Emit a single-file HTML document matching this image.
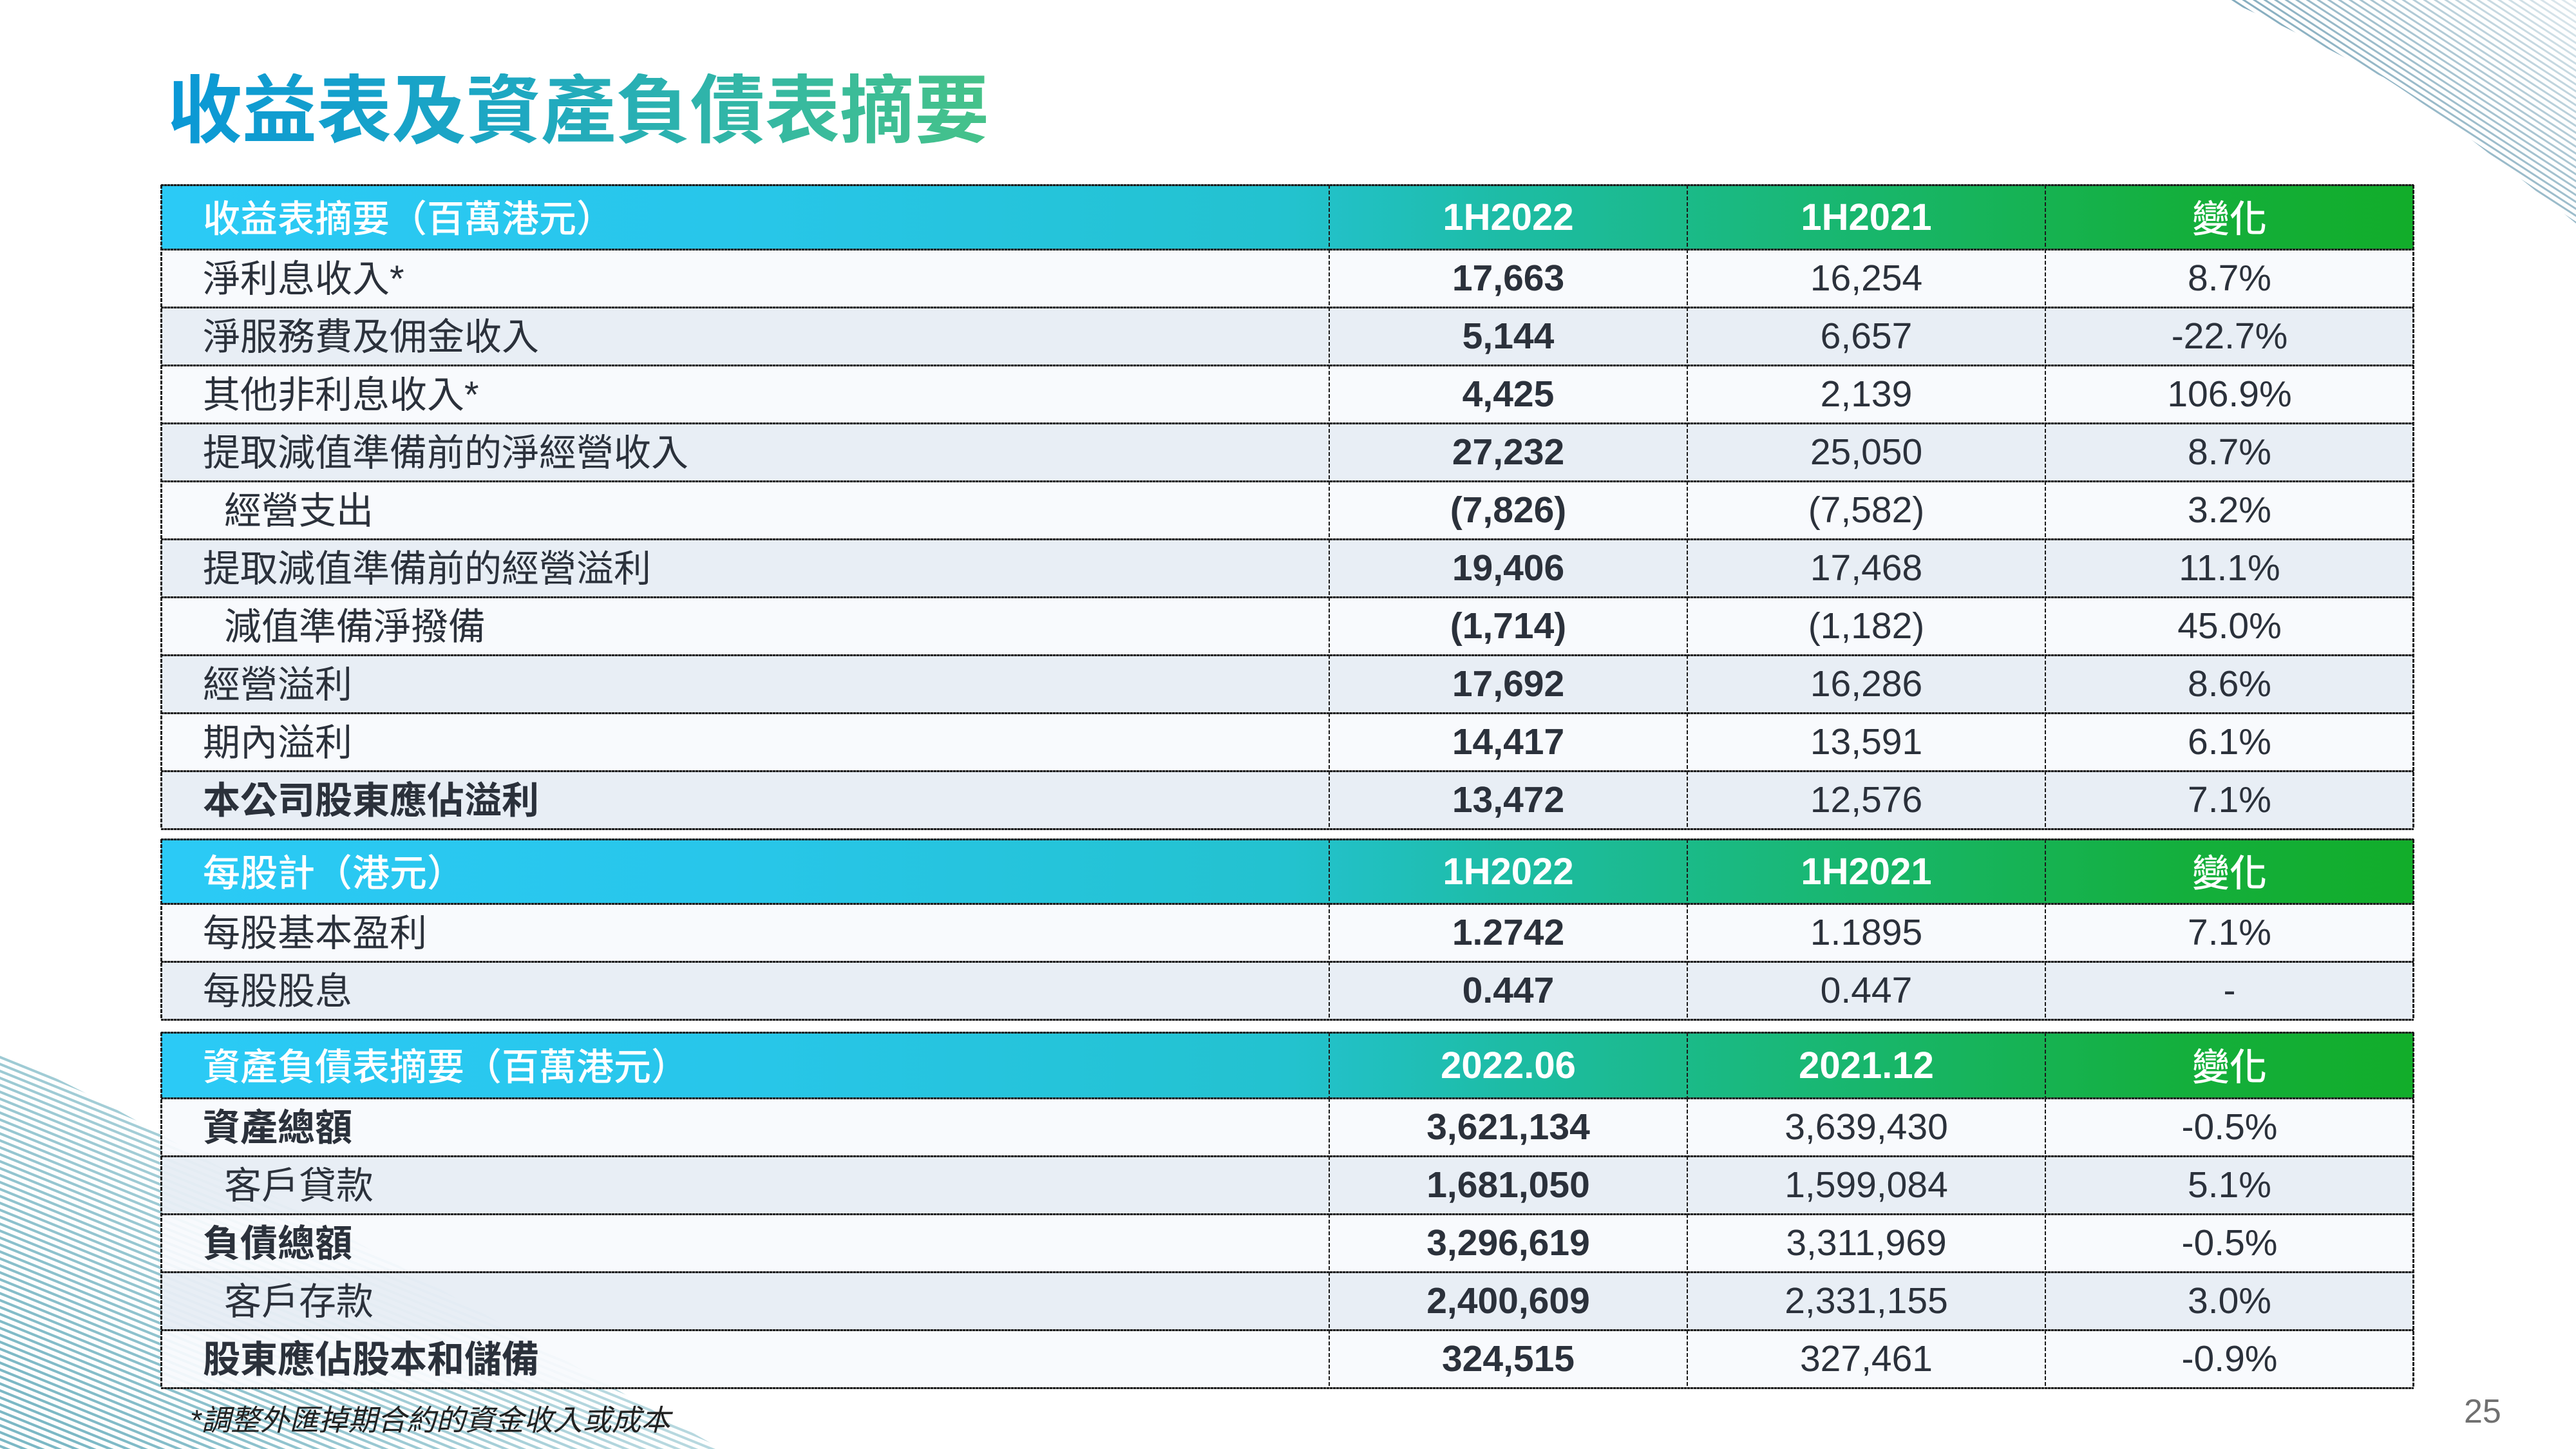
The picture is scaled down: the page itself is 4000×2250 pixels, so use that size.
<!DOCTYPE html>
<html><head><meta charset="utf-8">
<style>
*{margin:0;padding:0;box-sizing:border-box}
html,body{width:4000px;height:2250px;background:#fff;overflow:hidden}
body{position:relative;font-family:"Liberation Sans","Noto Sans CJK TC",sans-serif;color:#2b313b}
.title{position:absolute;left:260px;top:114px;font-family:"Liberation Sans","Noto Sans CJK TC",sans-serif;font-weight:700;font-size:116px;line-height:116px;white-space:nowrap;display:inline-block;background:linear-gradient(90deg,#0a98d6 0%,#20a9c0 45%,#36b9a0 75%,#46c289 100%);-webkit-background-clip:text;background-clip:text;color:transparent}
.sec{position:absolute;left:250px;width:3498px}
.row{position:relative;display:flex;height:90px}
.row.h{height:100px;background:linear-gradient(90deg,#2bcaf6 0%,#28c6ea 25%,#23c2cf 50%,#1dbca4 60%,#1ab980 70%,#17b45d 80%,#14af3c 90%,#12ad2a 100%)}
.row.l{background:rgba(248,250,253,0.93)}
.row.d{background:rgba(231,237,244,0.95)}
.row::before{content:"";position:absolute;left:0;right:0;top:-1px;height:3px;background:repeating-linear-gradient(90deg,#1c1c1c 0 4px,rgba(60,60,60,0.5) 4px 5px);z-index:2}
.bot{position:absolute;left:0;right:0;height:3px;background:repeating-linear-gradient(90deg,#1c1c1c 0 4px,rgba(60,60,60,0.5) 4px 5px);z-index:2}
.c{position:relative;display:flex;align-items:center;height:100%;font-size:57px;white-space:nowrap}
.c0{width:1814px;padding-left:65px;padding-bottom:9px;font-family:"Liberation Sans","Noto Sans CJK TC",sans-serif;font-size:58px}
.c0.in{padding-left:98px}
.c0.b{font-weight:700}
.c1,.c2,.c3{justify-content:center;font-family:"Liberation Sans",sans-serif}
.c1{width:556px;font-weight:700}
.c2{width:556px}
.c3{width:572px;font-family:"Liberation Sans","Noto Sans CJK TC",sans-serif}
.c1::before,.c2::before,.c3::before{content:"";position:absolute;left:-1px;top:0;bottom:0;width:2px;background:repeating-linear-gradient(180deg,#1c1c1c 0 6px,transparent 6px 9px)}
.vl{position:absolute;top:0;bottom:0;width:3px;background:repeating-linear-gradient(180deg,#1c1c1c 0 6px,transparent 6px 8px);z-index:3}
.h .c{color:#fff}
.h .c0{font-weight:500;padding-bottom:5px}
.h .c1,.h .c2{font-weight:700;font-size:58px}
.h .c3{font-weight:500;font-size:58px;padding-bottom:4px}
.foot{position:absolute;left:295px;top:2178px;font-size:45.5px;line-height:56px;font-style:italic;color:#222;font-family:"Liberation Sans","Noto Sans CJK TC",sans-serif;white-space:nowrap}
.pg{position:absolute;left:3826px;top:2166px;font-size:52px;line-height:52px;color:#707070;font-family:"Liberation Sans",sans-serif}
</style></head><body>

<svg width="4000" height="2250" style="position:absolute;left:0;top:0" xmlns="http://www.w3.org/2000/svg">
<defs>
<pattern id="ptr" patternUnits="userSpaceOnUse" width="60" height="9" patternTransform="rotate(33)"><rect width="60" height="3" fill="#7ea8bb"/></pattern>
<pattern id="pbl" patternUnits="userSpaceOnUse" width="60" height="10" patternTransform="rotate(22)"><rect width="60" height="4" fill="#7cb8c5"/></pattern>
<linearGradient id="gtr" x1="3620" y1="160" x2="3860" y2="-120" gradientUnits="userSpaceOnUse"><stop offset="0" stop-color="#fff" stop-opacity="1"/><stop offset="1" stop-color="#fff" stop-opacity="0.25"/></linearGradient>
<mask id="mtr"><rect x="3300" y="0" width="700" height="450" fill="url(#gtr)"/></mask>
<linearGradient id="gbl" x1="80" y1="2200" x2="500" y2="1750" gradientUnits="userSpaceOnUse"><stop offset="0" stop-color="#fff" stop-opacity="1"/><stop offset="1" stop-color="#fff" stop-opacity="0.55"/></linearGradient>
<mask id="mbl"><rect x="0" y="1550" width="1200" height="700" fill="url(#gbl)"/></mask>
</defs>
<path d="M3456,0 C3560,45 3650,95 3701,120 C3780,170 3850,225 4000,347 L4000,0 Z" fill="url(#ptr)" mask="url(#mtr)"/>
<path d="M0,1635 C120,1685 220,1745 300,1790 C520,1905 820,2080 1120,2250 L0,2250 Z" fill="url(#pbl)" mask="url(#mbl)"/>
</svg>

<div class="title">收益表及資產負債表摘要</div>

<!-- Section 1 -->
<div class="sec" style="top:287px">
  <div class="row h"><div class="c c0">收益表摘要（百萬港元）</div><div class="c c1">1H2022</div><div class="c c2">1H2021</div><div class="c c3">變化</div></div>
  <div class="row l"><div class="c c0">淨利息收入*</div><div class="c c1">17,663</div><div class="c c2">16,254</div><div class="c c3">8.7%</div></div>
  <div class="row d"><div class="c c0">淨服務費及佣金收入</div><div class="c c1">5,144</div><div class="c c2">6,657</div><div class="c c3">-22.7%</div></div>
  <div class="row l"><div class="c c0">其他非利息收入*</div><div class="c c1">4,425</div><div class="c c2">2,139</div><div class="c c3">106.9%</div></div>
  <div class="row d"><div class="c c0">提取減值準備前的淨經營收入</div><div class="c c1">27,232</div><div class="c c2">25,050</div><div class="c c3">8.7%</div></div>
  <div class="row l"><div class="c c0 in">經營支出</div><div class="c c1">(7,826)</div><div class="c c2">(7,582)</div><div class="c c3">3.2%</div></div>
  <div class="row d"><div class="c c0">提取減值準備前的經營溢利</div><div class="c c1">19,406</div><div class="c c2">17,468</div><div class="c c3">11.1%</div></div>
  <div class="row l"><div class="c c0 in">減值準備淨撥備</div><div class="c c1">(1,714)</div><div class="c c2">(1,182)</div><div class="c c3">45.0%</div></div>
  <div class="row d"><div class="c c0">經營溢利</div><div class="c c1">17,692</div><div class="c c2">16,286</div><div class="c c3">8.6%</div></div>
  <div class="row l"><div class="c c0">期內溢利</div><div class="c c1">14,417</div><div class="c c2">13,591</div><div class="c c3">6.1%</div></div>
  <div class="row d"><div class="c c0 b">本公司股東應佔溢利</div><div class="c c1">13,472</div><div class="c c2">12,576</div><div class="c c3">7.1%</div></div>
  <div class="bot" style="bottom:-2px"></div>
  <div class="vl" style="left:-1px"></div><div class="vl" style="right:-1px"></div>
</div>

<!-- Section 2 -->
<div class="sec" style="top:1303px">
  <div class="row h"><div class="c c0">每股計（港元）</div><div class="c c1">1H2022</div><div class="c c2">1H2021</div><div class="c c3">變化</div></div>
  <div class="row l"><div class="c c0">每股基本盈利</div><div class="c c1">1.2742</div><div class="c c2">1.1895</div><div class="c c3">7.1%</div></div>
  <div class="row d"><div class="c c0">每股股息</div><div class="c c1">0.447</div><div class="c c2">0.447</div><div class="c c3">-</div></div>
  <div class="bot" style="bottom:-2px"></div>
  <div class="vl" style="left:-1px"></div><div class="vl" style="right:-1px"></div>
</div>

<!-- Section 3 -->
<div class="sec" style="top:1603px">
  <div class="row h" style="height:102px"><div class="c c0">資產負債表摘要（百萬港元）</div><div class="c c1">2022.06</div><div class="c c2">2021.12</div><div class="c c3">變化</div></div>
  <div class="row l"><div class="c c0 b">資產總額</div><div class="c c1">3,621,134</div><div class="c c2">3,639,430</div><div class="c c3">-0.5%</div></div>
  <div class="row d"><div class="c c0 in">客戶貸款</div><div class="c c1">1,681,050</div><div class="c c2">1,599,084</div><div class="c c3">5.1%</div></div>
  <div class="row l"><div class="c c0 b">負債總額</div><div class="c c1">3,296,619</div><div class="c c2">3,311,969</div><div class="c c3">-0.5%</div></div>
  <div class="row d"><div class="c c0 in">客戶存款</div><div class="c c1">2,400,609</div><div class="c c2">2,331,155</div><div class="c c3">3.0%</div></div>
  <div class="row l"><div class="c c0 b">股東應佔股本和儲備</div><div class="c c1">324,515</div><div class="c c2">327,461</div><div class="c c3">-0.9%</div></div>
  <div class="bot" style="bottom:-2px"></div>
  <div class="vl" style="left:-1px"></div><div class="vl" style="right:-1px"></div>
</div>

<div class="foot">*調整外匯掉期合約的資金收入或成本</div>
<div class="pg">25</div>
</body></html>
